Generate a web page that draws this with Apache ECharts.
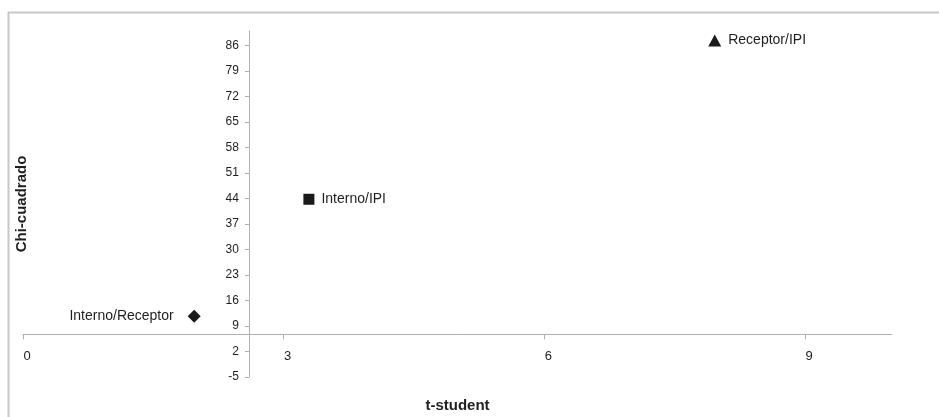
<!DOCTYPE html>
<html>
<head>
<meta charset="utf-8">
<script src="https://cdn.jsdelivr.net/npm/echarts@6/dist/echarts.min.js"></script>
<style>
html,body{margin:0;padding:0;background:#fff;}
#chart{width:939px;height:417px;}
</style>
</head>
<body>
<div id="chart"></div>
<script>
// Data
const pointNames = ['Interno/Receptor', 'Interno/IPI', 'Receptor/IPI'];
const tStudent = [1.97, 3.29, 7.96];
const chiCuadrado = [11.7, 43.8, 87.4];
const xTicks = [0, 3, 6, 9];
const yTicks = [-5, 2, 9, 16, 23, 30, 37, 44, 51, 58, 65, 72, 79, 86];
const xRange = [0, 10];
const yRange = [-5, 90];
const yAxisCrossesX = 2.6;   // vertical axis crosses at t = 2.6
const xAxisCrossesY = 6.7;   // horizontal axis crosses at chi = 6.7

const symbols = ['diamond', 'rect', 'triangle'];
const symbolSizes = [[13, 13], [11, 11], [13, 12]];
const labelPos = ['left', 'right', 'right'];
const labelDist = [14, 7, 7];

const font = 'Liberation Sans, Arial, sans-serif';
const W = 939, H = 417;
const grid = {left: 23, right: 47, top: 31, bottom: 40};
const gridW = W - grid.left - grid.right;
const gridH = H - grid.top - grid.bottom;
// shift the axes into the plot so they cross at the chosen values
const yAxisOffset = -((yAxisCrossesX - xRange[0]) / (xRange[1] - xRange[0])) * gridW;
const xAxisOffset = -((xAxisCrossesY - yRange[0]) / (yRange[1] - yRange[0])) * gridH;

const chart = echarts.init(document.getElementById('chart'), null, {renderer: 'canvas'});

const seriesList = pointNames.map((name, i) => ({
  type: 'scatter',
  name: name,
  symbol: symbols[i],
  symbolSize: symbolSizes[i],
  itemStyle: {color: '#1a1a1a', opacity: 1},
  data: [[tStudent[i], chiCuadrado[i]]],
  label: {
    show: true,
    position: labelPos[i],
    distance: labelDist[i],
    formatter: name,
    color: '#1e1e1e',
    fontSize: 14,
    fontFamily: font
  },
  emphasis: {disabled: true}
}));

const axisLineStyle = {color: '#b0b0b0', width: 1};

chart.setOption({
  animation: false,
  backgroundColor: '#fff',
  graphic: [{
    type: 'polyline',
    shape: {points: [[8.5, 440], [8.5, 12.5], [960, 12.5]]},
    style: {stroke: '#c8c8c8', lineWidth: 2, fill: null}
  }],
  grid: Object.assign({containLabel: false, outerBoundsMode: 'none'}, grid),
  xAxis: {
    type: 'value',
    position: 'bottom',
    offset: xAxisOffset,
    min: xRange[0], max: xRange[1], interval: 3,
    name: 't-student',
    nameLocation: 'middle',
    nameGap: 64,
    nameTextStyle: {fontWeight: 'bold', fontSize: 15, color: '#1e1e1e', fontFamily: font},
    axisLine: {onZero: false, lineStyle: axisLineStyle},
    axisTick: {show: true, length: 5, lineStyle: axisLineStyle, customValues: xTicks},
    axisLabel: {color: '#1e1e1e', fontSize: 13, fontFamily: font, margin: 16, customValues: xTicks, padding: [0, 0, 0, 8]},
    splitLine: {show: false}
  },
  yAxis: {
    type: 'value',
    position: 'left',
    offset: yAxisOffset,
    min: yRange[0], max: yRange[1], interval: 7,
    name: 'Chi-cuadrado',
    nameLocation: 'middle',
    nameGap: 220,
    nameRotate: 90,
    nameTextStyle: {fontWeight: 'bold', fontSize: 15, color: '#1e1e1e', fontFamily: font},
    axisLine: {onZero: false, lineStyle: axisLineStyle},
    axisTick: {show: true, length: 4, lineStyle: axisLineStyle, customValues: yTicks},
    axisLabel: {color: '#1e1e1e', fontSize: 12, fontFamily: font, margin: 10, customValues: yTicks},
    splitLine: {show: false}
  },
  series: seriesList
});
</script>
</body>
</html>
